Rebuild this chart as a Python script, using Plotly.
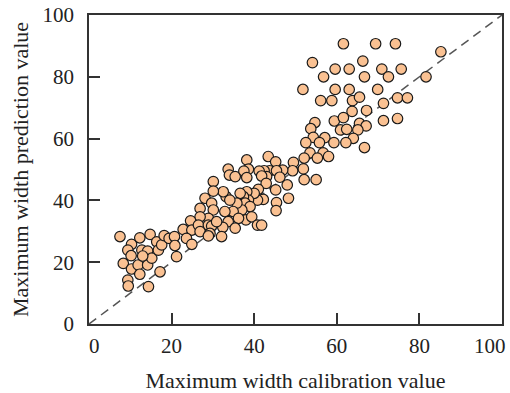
import plotly.graph_objects as go

# Calibration (x) and prediction (y) values
calib = [61.6, 69.4, 74.2, 85.2, 54.1, 66.3, 59.6, 63.0, 70.9, 75.6,
         56.8, 66.7, 72.5, 81.6, 51.8, 59.6, 63.0, 69.9, 56.1, 58.8,
         63.8, 65.5, 74.7, 77.1, 71.3, 67.2, 63.7, 54.7, 53.7, 59.4,
         61.6, 71.3, 74.7, 60.9, 62.4, 65.5, 67.1, 65.1, 64.0, 54.3,
         57.1, 52.5, 55.8, 59.3, 62.2, 66.7, 53.5, 56.7, 52.1, 55.3,
         58.0, 49.5, 51.9, 52.1, 55.0, 49.3, 48.0, 48.3, 45.4, 45.3,
         45.2, 43.4, 45.2, 46.9, 43.7, 45.4, 42.4, 43.0, 46.2, 38.2,
         38.6, 33.7, 34.0, 35.4, 37.5, 38.2, 41.2, 41.8, 42.9, 41.0,
         42.2, 40.8, 40.0, 38.2, 38.6, 37.4, 36.6, 37.8, 39.0, 37.0,
         38.0, 39.4, 40.8, 41.8, 35.8, 34.9, 36.2, 33.2, 34.1, 32.5,
         30.1, 30.1, 28.1, 29.7, 30.1, 32.9, 33.7, 32.4, 35.4, 28.9,
         26.9, 26.9, 24.6, 22.8, 24.9, 26.5, 26.9, 28.9, 29.7, 30.9,
         29.3, 28.9, 23.6, 24.9, 32.1, 7.5, 10.3, 9.4, 10.2, 8.3,
         10.3, 9.4, 9.5, 14.4, 12.3, 14.8, 12.8, 14.2, 11.9, 12.3,
         14.2, 15.2, 16.4, 16.8, 17.6, 18.2, 19.4, 20.7, 20.8, 21.2,
         17.2, 13.0]
pred = [90.7, 90.7, 90.7, 88.1, 84.6, 85.1, 82.5, 82.5, 82.5, 82.5,
        80.0, 80.0, 80.0, 80.0, 75.9, 75.9, 75.9, 75.9, 72.3, 72.3,
        72.3, 73.4, 73.2, 73.2, 71.4, 69.1, 68.8, 65.2, 63.2, 65.7,
        66.8, 65.8, 66.5, 62.8, 63.0, 64.9, 64.1, 62.8, 60.1, 60.4,
        60.3, 58.7, 58.7, 58.7, 58.7, 57.1, 55.4, 55.4, 53.7, 53.7,
        54.2, 52.3, 50.2, 46.7, 46.7, 49.6, 45.0, 40.7, 39.3, 36.7,
        43.4, 54.2, 52.5, 49.8, 49.6, 49.6, 49.6, 47.7, 47.5, 53.1,
        50.1, 50.1, 48.2, 47.7, 49.5, 47.4, 49.5, 47.9, 45.5, 43.6,
        40.3, 40.1, 42.3, 42.8, 40.1, 41.2, 42.3, 39.1, 38.0, 36.9,
        33.7, 34.7, 32.0, 32.0, 39.1, 36.4, 34.2, 41.2, 40.1, 42.8,
        46.1, 43.0, 40.7, 39.1, 36.9, 36.4, 33.1, 31.3, 31.0, 34.2,
        37.4, 34.7, 33.4, 30.6, 30.4, 32.0, 29.9, 32.0, 31.7, 33.1,
        29.3, 28.5, 27.7, 25.8, 28.3, 28.3, 25.8, 23.9, 22.1, 19.6,
        17.8, 14.2, 12.3, 12.1, 27.9, 29.0, 23.9, 23.6, 19.1, 16.1,
        19.1, 21.3, 26.6, 23.9, 25.6, 28.6, 27.7, 28.3, 25.4, 21.8,
        16.9, 22.0]

ideal = [0, 100]
tick_vals = [0, 20, 40, 60, 80, 100]
y_tick_text = ["0", "20", "40", "60", "80", "100"]
# the last x label ("100") is right-aligned to the frame edge, as in the reference
x_tick_text = ["\u00a0\u00a00", "20", "40", "60", "80", ""]
x_end_label = "100"

font_family = "Liberation Serif, Times New Roman, serif"
axis_color = "#333333"
text_color = "#222222"

fig = go.Figure()
fig.add_trace(go.Scatter(
    x=ideal, y=ideal, mode="lines",
    line=dict(color="#555555", width=1.5, dash="9px,6px"),
    hoverinfo="skip", showlegend=False))
fig.add_trace(go.Scatter(
    x=calib, y=pred, mode="markers",
    marker=dict(size=10.5, color="rgb(250,193,146)",
                line=dict(color="#1a1a1a", width=1.2)),
    showlegend=False))

axis_common = dict(
    range=[0, 100], tickvals=tick_vals, automargin=False,
    showgrid=False, zeroline=False, showline=True, linecolor=axis_color,
    linewidth=1.5, mirror=True, ticks="inside", ticklen=11,
    tickwidth=1.5, tickcolor=axis_color, ticklabeloverflow="allow",
    tickfont=dict(family=font_family, size=21, color=text_color),
)

fig.update_layout(
    width=510, height=393,
    margin=dict(l=89, r=8, t=15, b=69),
    paper_bgcolor="white", plot_bgcolor="white",
    xaxis=dict(**axis_common, ticktext=x_tick_text, ticklabelstandoff=2,
               title=dict(text="Maximum width calibration value",
                          font=dict(family=font_family, size=22, color=text_color),
                          standoff=18)),
    yaxis=dict(**axis_common, ticktext=y_tick_text, ticklabelstandoff=9,
               title=dict(text="Maximum width prediction value",
                          font=dict(family=font_family, size=22, color=text_color),
                          standoff=8)),
    annotations=[dict(
        text=x_end_label, xref="x", yref="paper", x=100, y=0,
        xanchor="right", yanchor="top", xshift=6, yshift=-8,
        showarrow=False,
        font=dict(family=font_family, size=21, color=text_color))],
)

fig.write_html("out.html")
